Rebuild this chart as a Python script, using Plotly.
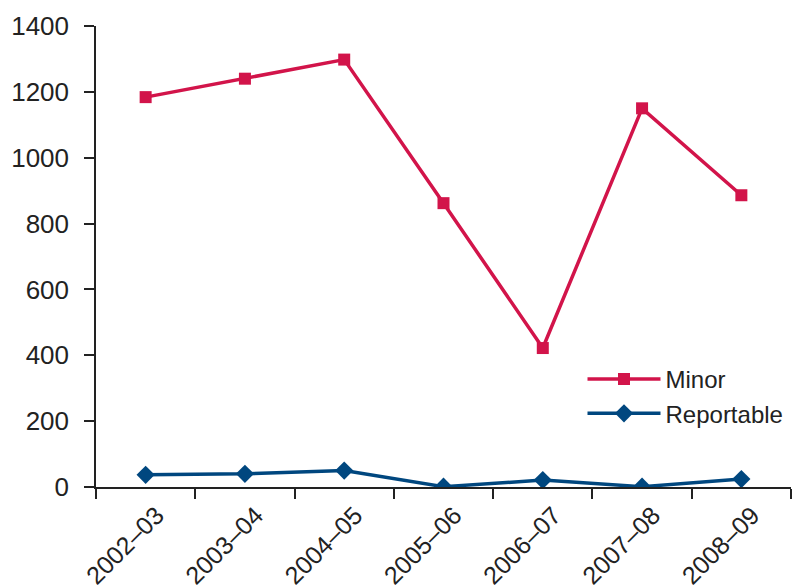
import plotly.graph_objects as go

categories = ["2002–03", "2003–04", "2004–05", "2005–06", "2006–07", "2007–08", "2008–09"]
minor = [1184, 1240, 1298, 862, 422, 1150, 886]
reportable = [37, 40, 50, 1, 21, 1, 24]
y_ticks = [0, 200, 400, 600, 800, 1000, 1200, 1400]

FONT = "Liberation Sans, Arial, sans-serif"
TXT = "#222222"

fig = go.Figure()
fig.add_trace(go.Scatter(
    x=categories, y=minor, name="Minor", mode="lines+markers",
    line=dict(color="#D2144A", width=3.5),
    marker=dict(symbol="square", size=12, color="#D2144A"),
))
fig.add_trace(go.Scatter(
    x=categories, y=reportable, name="Reportable", mode="lines+markers",
    line=dict(color="#00477F", width=3.5),
    marker=dict(symbol="diamond", size=14, color="#00477F"),
))

fig.update_layout(
    width=795, height=588,
    margin=dict(l=96, r=4, t=26, b=101),
    plot_bgcolor="white", paper_bgcolor="white",
    font=dict(family=FONT, size=24, color=TXT),
    showlegend=True,
    legend=dict(x=0.70, y=0.282, xanchor="left", yanchor="top",
                bgcolor="rgba(0,0,0,0)", font=dict(size=24, color=TXT),
                itemwidth=73, tracegroupgap=0),
    xaxis=dict(
        type="category", range=[-0.5, 6.5], automargin=False,
        showline=True, linecolor="#222222", linewidth=1.5,
        ticks="outside", tickson="boundaries", ticklen=10, tickwidth=1.5,
        tickcolor="#222222", tickangle=-45, showgrid=False, zeroline=False,
        tickfont=dict(size=25, color=TXT),
        ticklabelshift=11, ticklabelstandoff=2,
    ),
    yaxis=dict(
        range=[0, 1400], tickvals=y_ticks, automargin=False,
        showline=True, linecolor="#222222", linewidth=1.5,
        ticks="outside", ticklen=10, tickwidth=1.5, tickcolor="#222222",
        showgrid=False, zeroline=False,
        tickfont=dict(size=26, color=TXT),
        ticklabelstandoff=10,
    ),
)

fig.write_html("out.html")
